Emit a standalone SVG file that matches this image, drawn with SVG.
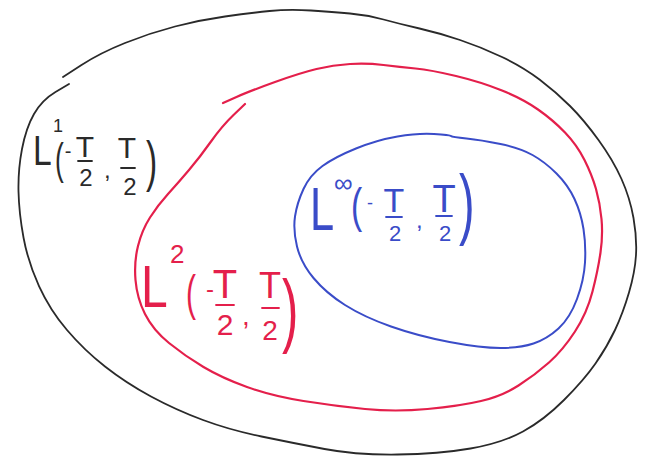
<svg xmlns="http://www.w3.org/2000/svg" width="648" height="456" viewBox="0 0 648 456">
<style>
  .curve { fill: none; stroke-linecap: round; stroke-linejoin: round; }
  .k { stroke: #2a2a2a; stroke-width: 1.8; }
  .r { stroke: #e41f4b; stroke-width: 2.2; }
  .b { stroke: #3a4cc8; stroke-width: 2; }
  text { font-family: "Liberation Sans", "DejaVu Sans", sans-serif; }
  .tk { fill: #2a2a2a; }
  .tr { fill: #e41f4b; }
  .tb { fill: #3a4cc8; }
  .mid { text-anchor: middle; }
  .bar { stroke-width: 1.8; stroke-linecap: round; }
  .bk { stroke: #2a2a2a; }
  .br { stroke: #e41f4b; }
  .bb { stroke: #3a4cc8; }
</style>
<rect width="648" height="456" fill="#ffffff"/>

<g id="set-L1">
  <path class="curve k" d="M63,77 L81.5,65 Q100,53 125,43 Q150,33 175,26.5 Q200,20 225,16.5 Q250,13 269.5,11 Q289,9 311,10.5 Q333,12 350,13.5 Q367,15 383.5,19.5 Q400,24 419.5,28.5 Q439,33 460,40 Q481,47 502,57 Q523,67 539.5,79.5 Q556,92 570,106 Q584,120 598.5,140 Q613,160 621.5,179 Q630,198 633.5,218 Q637,238 636,255 Q635,272 629,292.5 Q623,313 615,330 Q607,347 595.5,363.5 Q584,380 564,400 Q544,420 523,431.5 Q502,443 470.5,448.5 Q439,454 397.5,454.5 Q356,455 324.5,449 Q293,443 261.5,436.5 Q230,430 203,420 Q176,410 151,396.5 Q126,383 105,366.5 Q84,350 67,330 Q50,310 39,286 Q28,262 23.5,237.5 Q19,213 18.5,191.5 Q18,170 22,149 Q26,128 34,114 Q42,100 55.5,92 L69,84"/>
  <g id="label-L1" class="tk">
    <text transform="translate(33,165) scale(0.8,1)" font-size="42">L</text>
    <text x="53" y="132" font-size="18">1</text>
    <text transform="translate(55,174) scale(0.6,1)" font-size="44">(</text>
    <text class="mid" x="68" y="158" font-size="20">-</text>
    <text class="mid" x="85" y="157" font-size="30">T</text>
    <line class="bar bk" x1="78" y1="161" x2="92" y2="161"/>
    <text class="mid" x="86" y="186" font-size="24">2</text>
    <text x="104" y="178" font-size="24">,</text>
    <text class="mid" x="127" y="158" font-size="30">T</text>
    <line class="bar bk" x1="121" y1="168" x2="135" y2="168"/>
    <text class="mid" x="130" y="195" font-size="24">2</text>
    <text transform="translate(146,180) scale(0.6,1)" font-size="56">)</text>
  </g>
</g>

<g id="set-L2">
  <path class="curve r" d="M223,103 L236.5,97 Q250,91 275,82 Q300,73 316.5,69 Q333,65 350,64 Q367,63 383.5,65 Q400,67 415.5,68.5 Q431,70 456,76 Q481,82 502,90.5 Q523,99 538,109.5 Q553,120 565,132.5 Q577,145 584.5,160 Q592,175 596,189 Q600,203 601.5,219 Q603,235 600.5,252.5 Q598,270 592.5,291.5 Q587,313 575,331.5 Q563,350 549,362.5 Q535,375 518.5,385.5 Q502,396 481,401 Q460,406 427.5,409 Q395,412 365,409 Q335,406 303.5,401 Q272,396 247,387 Q222,378 203.5,367 Q185,356 169,343 Q153,330 145,314 Q137,298 135.5,280 Q134,262 138,246 Q142,230 150,217.5 Q158,205 168,194 Q178,183 189,170 Q200,157 211,141.5 Q222,126 233.5,115 L245,104"/>
  <g id="label-L2" class="tr">
    <text transform="translate(141,307) scale(0.8,1)" font-size="60">L</text>
    <text x="170" y="263" font-size="26">2</text>
    <text transform="translate(186,310) scale(0.6,1)" font-size="50">(</text>
    <text class="mid" x="210" y="297" font-size="24">-</text>
    <text class="mid" x="225" y="298" font-size="40">T</text>
    <line class="bar br" x1="216" y1="305" x2="234" y2="305"/>
    <text class="mid" x="225" y="335" font-size="30">2</text>
    <text x="242" y="325" font-size="28">,</text>
    <text class="mid" x="270" y="298" font-size="36">T</text>
    <line class="bar br" x1="262" y1="308" x2="279" y2="308"/>
    <text class="mid" x="270" y="340" font-size="28">2</text>
    <text transform="translate(282,337) scale(0.6,1)" font-size="82">)</text>
  </g>
</g>

<g id="set-Linf">
  <path class="curve b" d="M451,136 Q452,137 466.5,138.5 Q481,140 500.5,144 Q520,148 532.5,155 Q545,162 556.5,173.5 Q568,185 574.5,199 Q581,213 583.5,229 Q586,245 585,262.5 Q584,280 577,299 Q570,318 558.5,328.5 Q547,339 533.5,343.5 Q520,348 500.5,348 Q481,348 449.5,342 Q418,336 391,326.5 Q364,317 345,305 Q326,293 313.5,278 Q301,263 297,246.5 Q293,230 295,216.5 Q297,203 303.5,189 Q310,175 322.5,166 Q335,157 356,148.5 Q377,140 397.5,136.5 Q418,133 434,134 Q450,135 451,136 Z"/>
  <g id="label-Linf" class="tb">
    <text transform="translate(310,230) scale(0.7,1)" font-size="62">L</text>
    <text x="334" y="192" font-size="26">∞</text>
    <text transform="translate(351,222) scale(0.7,1)" font-size="48">(</text>
    <text class="mid" x="370" y="209" font-size="18">-</text>
    <text class="mid" x="394" y="212" font-size="34">T</text>
    <line class="bar bb" x1="386" y1="217" x2="402" y2="217"/>
    <text class="mid" x="395" y="241" font-size="22">2</text>
    <text x="416" y="228" font-size="24">,</text>
    <text class="mid" x="444" y="212" font-size="38">T</text>
    <line class="bar bb" x1="436" y1="216" x2="452" y2="216"/>
    <text class="mid" x="445" y="241" font-size="22">2</text>
    <text transform="translate(459,230) scale(0.6,1)" font-size="78">)</text>
  </g>
</g>
</svg>
